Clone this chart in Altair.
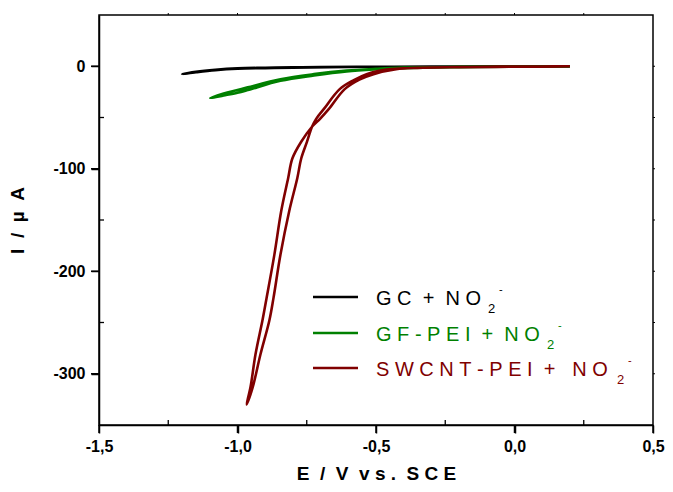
import altair as alt
import pandas as pd

# ---------------- data ----------------
series_names = ["GC + NO2-", "GF-PEI + NO2-", "SWCNT-PEI + NO2-"]
series_colors = ["#000000", "#008000", "#800000"]

gc_x = [0.20, 0.0, -0.3, -0.5, -0.7, -0.8, -0.9, -1.0, -1.08, -1.15, -1.20,
        -1.15, -1.08, -1.0, -0.9, -0.8, -0.6, -0.4, 0.0, 0.20]
gc_y = [-0.1, -0.2, -0.3, -0.5, -0.8, -1.1, -1.5, -2.0, -3.4, -5.4, -7.7,
        -5.9, -3.8, -2.4, -1.8, -1.3, -0.8, -0.5, -0.1, 0.0]

gf_x = [0.20, 0.0, -0.2, -0.4, -0.5, -0.606, -0.724, -0.845, -0.963, -1.0, -1.05, -1.099,
        -1.05, -1.0, -0.963, -0.845, -0.724, -0.606, -0.5, -0.4, -0.2, 0.0, 0.20]
gf_y = [-0.2, -0.5, -0.9, -1.8, -3.0, -5.0, -9.0, -14.2, -23.2, -25.8, -28.5, -31.0,
        -26.5, -23.2, -20.6, -12.6, -7.7, -4.3, -2.5, -1.3, -0.6, -0.3, 0.0]

sw_x = [0.20, 0.10, 0.0, -0.1, -0.2, -0.3, -0.4, -0.462, -0.534, -0.58, -0.631, -0.688,
        -0.716, -0.731, -0.749, -0.770, -0.784, -0.813, -0.845, -0.870, -0.885, -0.917,
        -0.945, -0.967,
        -0.953, -0.935, -0.910, -0.895, -0.867, -0.842, -0.817, -0.802, -0.770, -0.731,
        -0.702, -0.670, -0.613, -0.56, -0.509, -0.427, -0.35, -0.2, 0.0, 0.20]
sw_y = [0.0, -0.2, -0.3, -0.5, -0.8, -1.2, -2.0, -3.2, -7.7, -13.5, -22.3, -41.6,
        -51.3, -59.0, -73.6, -90.0, -109.0, -141.0, -184.0, -226.0, -248.0, -281.0,
        -313.0, -330.0,
        -313.0, -281.0, -248.0, -226.0, -184.0, -141.0, -109.0, -90.0, -73.6, -59.0,
        -51.3, -41.6, -22.3, -13.0, -7.7, -2.9, -1.6, -0.9, -0.5, -0.3]

x_major = [-1.5, -1.0, -0.5, 0.0, 0.5]
x_minor = [-1.25, -0.75, -0.25, 0.25]
x_top = [-1.25, -1.0, -0.75, -0.5, -0.25, 0.0, 0.25]
y_major = [-300, -200, -100, 0]
y_minor = [-250, -150, -50]
y_right = [-300, -250, -200, -150, -100, -50, 0]

S = "\u00a0"  # non-collapsing space
legend_main = [
    S.join(["G", "C", "", "+", "", "N", "O"]),
    S.join(["G", "F", "-", "P", "E", "I", "", "+", "", "N", "O"]),
    S.join(["S", "W", "C", "N", "T", "-", "P", "E", "I", "", "+", "", "", "N", "O"]),
]
legend_sub = "2"
legend_sup = "-"
x_title = S.join(["E", "", "/", "", "V", "", "v", "s", ".", "", "S", "C", "E"])
y_title = S.join(["I", "", "/", "", "µ", "", "A"])

FONT = "Liberation Sans"
W, H = 554, 410

rows = []
for name, xs, ys in [(series_names[0], gc_x, gc_y), (series_names[1], gf_x, gf_y),
                     (series_names[2], sw_x, sw_y)]:
    for i, (a, b) in enumerate(zip(xs, ys)):
        rows.append({"series": name, "x": a, "y": b, "i": i})
df = pd.DataFrame(rows)

xscale = alt.Scale(domain=[-1.5, 0.5], nice=False, zero=False)
yscale = alt.Scale(domain=[-350, 50], nice=False, zero=False)

x_label_expr = "(datum.value < 0 ? '-' : '') + replace(format(abs(datum.value), '.1f'), '.', ',')"
y_label_expr = "(datum.value < 0 ? '-' : '') + format(abs(datum.value), 'd')"

x_axis = alt.Axis(values=x_major, labelExpr=x_label_expr, title=x_title,
                  ticks=True, tickSize=8, labelPadding=5, grid=False, labelFlush=False,
                  titleY=54, titleBaseline="alphabetic")
y_axis = alt.Axis(values=y_major, labelExpr=y_label_expr, title=y_title,
                  ticks=True, tickSize=8, labelPadding=6, grid=False, labelFlush=False,
                  labelAlign="right", titleX=-72, titleY=205)

lines = alt.Chart(df).mark_line(strokeWidth=2.6, interpolate="catmull-rom").encode(
    x=alt.X("x:Q", scale=xscale, axis=x_axis),
    y=alt.Y("y:Q", scale=yscale, axis=y_axis),
    color=alt.Color("series:N", scale=alt.Scale(domain=series_names, range=series_colors),
                    legend=None),
    detail="series:N",
    order="i:Q",
)


def xrule(vals, y0, y1, w):
    return alt.Chart(pd.DataFrame({"x": vals})).mark_rule(color="black", strokeWidth=w).encode(
        x=alt.X("x:Q", scale=xscale, axis=x_axis), y=alt.value(y0), y2=alt.value(y1))


def yrule(vals, x0, x1, w):
    return alt.Chart(pd.DataFrame({"y": vals})).mark_rule(color="black", strokeWidth=w).encode(
        y=alt.Y("y:Q", scale=yscale, axis=y_axis), x=alt.value(x0), x2=alt.value(x1))


ticks = [
    xrule(x_major, H, H + 8, 1.5),      # major, outside bottom
    xrule(x_minor, H, H - 5, 1.3),      # minor, inside bottom
    xrule(x_top, 0, -2, 1.0),           # small top ticks
    yrule(y_major, -8, 0, 1.5),         # major, outside left
    yrule(y_minor, 0, 5, 1.3),          # minor, inside left
    yrule(y_right, W, W + 2, 1.0),      # small right ticks
]

# custom legend
leg_layers = []
line_y = [282, 318, 353]
text_y = [290, 326, 361]
sub_x = [389, 448, 518]
for k in range(3):
    c = series_colors[k]
    one = pd.DataFrame({"t": [legend_main[k]]})
    leg_layers.append(alt.Chart(one).mark_rule(color=c, strokeWidth=2.6).encode(
        x=alt.value(214), x2=alt.value(259), y=alt.value(line_y[k])))
    leg_layers.append(alt.Chart(one).mark_text(
        align="left", baseline="alphabetic", font=FONT, fontSize=20, color=c).encode(
        text="t:N", x=alt.value(277), y=alt.value(text_y[k])))
    leg_layers.append(alt.Chart(pd.DataFrame({"t": [legend_sub]})).mark_text(
        align="left", baseline="alphabetic", font=FONT, fontSize=13, color=c).encode(
        text="t:N", x=alt.value(sub_x[k]), y=alt.value(text_y[k] + 8)))
    leg_layers.append(alt.Chart(pd.DataFrame({"t": [legend_sup]})).mark_text(
        align="left", baseline="alphabetic", font=FONT, fontSize=11, color=c).encode(
        text="t:N", x=alt.value(sub_x[k] + 11), y=alt.value(text_y[k] - 12)))

chart = alt.layer(lines, *ticks, *leg_layers).properties(
    width=W, height=H,
    autosize=alt.AutoSizeParams(type="none"),
    padding={"left": 91, "top": 7, "right": 12, "bottom": 59},
).configure_view(
    stroke="black", strokeWidth=1.5
).configure_axis(
    domainColor="black", domainWidth=1.5, tickColor="black", tickWidth=1.5,
    labelFont=FONT, labelFontSize=16, labelFontWeight="bold", labelColor="black",
    titleFont=FONT, titleFontSize=19, titleFontWeight="bold", titleColor="black",
)

chart.save("out.html", embed_options={"renderer": "svg", "actions": False})
